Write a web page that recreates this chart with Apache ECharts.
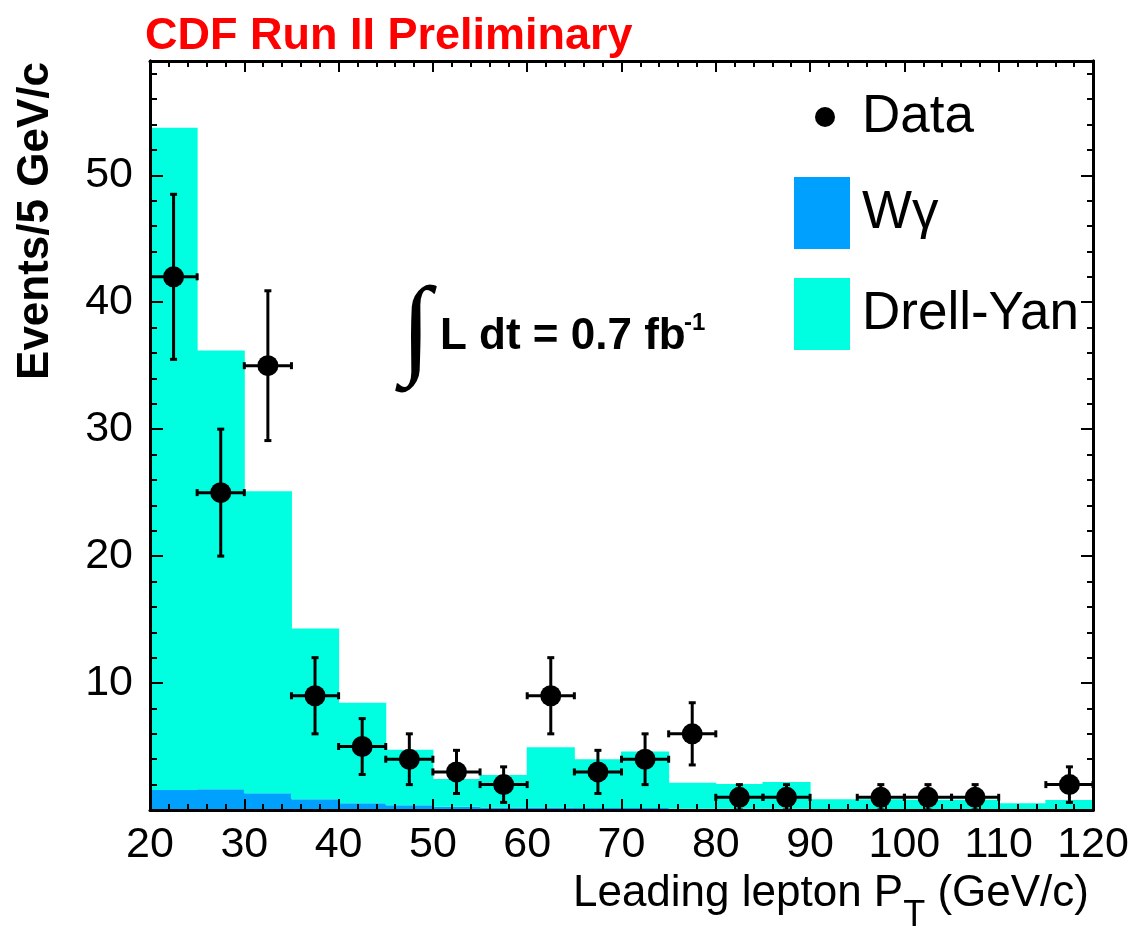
<!DOCTYPE html>
<html><head><meta charset="utf-8">
<script src="https://cdn.jsdelivr.net/npm/echarts@6/dist/echarts.min.js"></script>
<style>html,body{margin:0;padding:0;background:#fff}#c{width:1140px;height:929px}</style>
</head><body><div id="c"></div>
<script>
// ---- data ----
const binLow = [20,25,30,35,40,45,50,55,60,65,70,75,80,85,90,95,100,105,110,115];
const binWidth = 5;
const wgamma   = [1.58,1.63,1.32,0.84,0.53,0.37,0.25,0.2,0.2,0.15,0.15,0.1,0.1,0.1,0.05,0.05,0.05,0.05,0.03,0.05];
const drellYan = [52.17,34.57,23.78,13.46,7.92,4.38,2.2,2.55,4.75,3.85,4.45,2.05,1.95,2.1,0.8,0.8,0.75,0.75,0.5,0.74];
const dataX   = [22.5,27.5,32.5,37.5,42.5,47.5,52.5,57.5,62.5,67.5,72.5,77.5,82.5,87.5,97.5,102.5,107.5,117.5];
const dataY   = [42,25,35,9,5,4,3,2,9,3,4,6,1,1,1,1,1,2];
const dataErr = [6.5,5.0,5.9,3.0,2.2,2.0,1.7,1.4,3.0,1.7,2.0,2.45,1.0,1.0,1.0,1.0,1.0,1.4];
const xTickLabels = [20,30,40,50,60,70,80,90,100,110,120];
const yTickLabels = [10,20,30,40,50];

const F = '"Liberation Sans", Arial, sans-serif';
const C_W = '#00a0ff', C_DY = '#00ffe0';
const X_MIN = 20, X_MAX = 120, Y_MIN = 0, Y_MAX = 59;

const wData = binLow.map((lo,i)=>[lo, lo+binWidth, 0, wgamma[i]]);
const dyData = binLow.map((lo,i)=>[lo, lo+binWidth, wgamma[i], wgamma[i]+drellYan[i]]);
const ptData = dataX.map((x,i)=>[x, dataY[i]]);
const errData = dataX.map((x,i)=>[x, dataY[i], dataErr[i], binWidth/2]);

function histRender(color){
  return function(params, api){
    const p0 = api.coord([api.value(0), api.value(2)]);
    const p1 = api.coord([api.value(1), api.value(3)]);
    return {type:'rect', shape:{x:p0[0]-0.5, y:p1[1], width:p1[0]-p0[0]+1, height:p0[1]-p1[1]},
            style:{fill:color}};
  };
}
function errRender(params, api){
  const x = api.value(0), y = api.value(1), e = api.value(2), hw = api.value(3);
  const top = api.coord([x, y+e]);
  const bot = api.coord([x, Math.max(Y_MIN, y-e)]);
  const l = api.coord([x-hw, y]);
  const r = api.coord([x+hw, y]);
  const cap = 3.5;
  const st = {stroke:'#000', lineWidth:3};
  const line = (x1,y1,x2,y2)=>({type:'line', shape:{x1,y1,x2,y2}, style:st});
  return {type:'group', children:[
    line(top[0], top[1], bot[0], bot[1]),
    line(top[0]-cap, top[1], top[0]+cap, top[1]),
    line(bot[0]-cap, bot[1], bot[0]+cap, bot[1]),
    line(l[0], l[1], r[0], r[1]),
    line(l[0], l[1]-cap, l[0], l[1]+cap),
    line(r[0], r[1]-cap, r[0], r[1]+cap)
  ]};
}

const axisLine = {show:true, onZero:false, lineStyle:{color:'#000', width:3}};
function xAx(pos, showLabel){
  return {type:'value', min:X_MIN, max:X_MAX, interval:10, position:pos, z:10,
    axisLine, splitLine:{show:false},
    axisTick:{show:true, inside:true, length:11, lineStyle:{color:'#000', width:2}},
    minorTick:{show:true, splitNumber:5, length:6, lineStyle:{color:'#000', width:2}},
    axisLabel:{show:showLabel, fontSize:43, fontFamily:F, color:'#000', margin:14,
      formatter:v=> xTickLabels.includes(v) ? String(v) : ''}};
}
function yAx(pos, interval, len, showLabel){
  return {type:'value', min:Y_MIN, max:Y_MAX, interval, position:pos, z:10,
    axisLine, splitLine:{show:false},
    axisTick:{show:true, inside:true, length:len, lineStyle:{color:'#000', width:2}},
    axisLabel:{show:showLabel, fontSize:43, fontFamily:F, color:'#000', margin:17,
      formatter:v=> yTickLabels.includes(v) ? String(v) : ''}};
}

const xBottom = xAx('bottom', true);
Object.assign(xBottom, {
  name:'Leading lepton P{t|T} (GeV/c)', nameLocation:'end', nameGap:-4, nameMoveOverlap:false,
  nameTextStyle:{fontSize:44, fontFamily:F, color:'#000', align:'right', verticalAlign:'top',
    padding:[44,0,0,0], rich:{t:{fontSize:36, fontFamily:F, color:'#000', padding:[44,0,0,0]}}}
});
const yLeft = yAx('left', 10, 13, true);
Object.assign(yLeft, {
  name:'Events/5 GeV/c', nameLocation:'end', nameGap:-1, nameRotate:90, nameMoveOverlap:false,
  nameTextStyle:{fontSize:44, fontWeight:'bold', fontFamily:F, color:'#000', align:'right',
    verticalAlign:'bottom', padding:[0,0,92,0]}
});

const chart = echarts.init(document.getElementById('c'), null, {renderer:'canvas'});
chart.setOption({
  animation:false,
  backgroundColor:'#fff',
  title:{text:'CDF Run II Preliminary', left:145, top:14, padding:0,
    textStyle:{color:'#ff0000', fontWeight:'bold', fontSize:45, fontFamily:F}},
  grid:{left:150, right:47, top:61, bottom:119, containLabel:false, outerBoundsMode:'none'},
  legend:[
    {data:[{name:'Data', icon:'circle'}], left:815, top:87, itemWidth:64, itemHeight:20,
     selectedMode:false, padding:0, textStyle:{fontSize:53, fontFamily:F, color:'#000', lineHeight:60}},
    {data:[{name:'W\u03b3', icon:'rect'},{name:'Drell-Yan', icon:'rect'}], orient:'vertical',
     left:794, top:177, itemWidth:56, itemHeight:72, itemGap:29, selectedMode:false, padding:0,
     textStyle:{fontSize:53, fontFamily:F, color:'#000', padding:[6,0,0,7]}}
  ],
  xAxis:[xBottom, xAx('top', false)],
  yAxis:[yLeft, yAx('left', 2, 7, false), yAx('right', 10, 12, false), yAx('right', 2, 6, false)],
  graphic:[
    {type:'text', x:416, y:334, z:20, style:{text:'\u222b', font:'110px "Liberation Serif"', fill:'#000',
      textAlign:'center', textVerticalAlign:'middle'}},
    {type:'text', x:440, y:337, z:20, style:{text:'L dt = 0.7 fb', font:'bold 44px "Liberation Sans"',
      fill:'#000', textAlign:'left', textVerticalAlign:'middle'}},
    {type:'text', x:684, y:323, z:20, style:{text:'-1', font:'bold 24px "Liberation Sans"',
      fill:'#000', textAlign:'left', textVerticalAlign:'middle'}}
  ],
  series:[
    {name:'W\u03b3', type:'custom', xAxisIndex:0, yAxisIndex:0, clip:true, z:2,
     itemStyle:{color:C_W}, encode:{x:[0,1], y:[2,3]}, renderItem:histRender(C_W), data:wData},
    {name:'Drell-Yan', type:'custom', xAxisIndex:0, yAxisIndex:0, clip:true, z:2,
     itemStyle:{color:C_DY}, encode:{x:[0,1], y:[2,3]}, renderItem:histRender(C_DY), data:dyData},
    {name:'Data err', type:'custom', xAxisIndex:0, yAxisIndex:0, clip:true, z:4,
     encode:{x:0, y:1}, renderItem:errRender, data:errData, silent:true},
    {name:'Data', type:'scatter', xAxisIndex:0, yAxisIndex:0, z:5, symbol:'circle', symbolSize:21,
     itemStyle:{color:'#000', opacity:1}, data:ptData}
  ]
});
</script></body></html>
